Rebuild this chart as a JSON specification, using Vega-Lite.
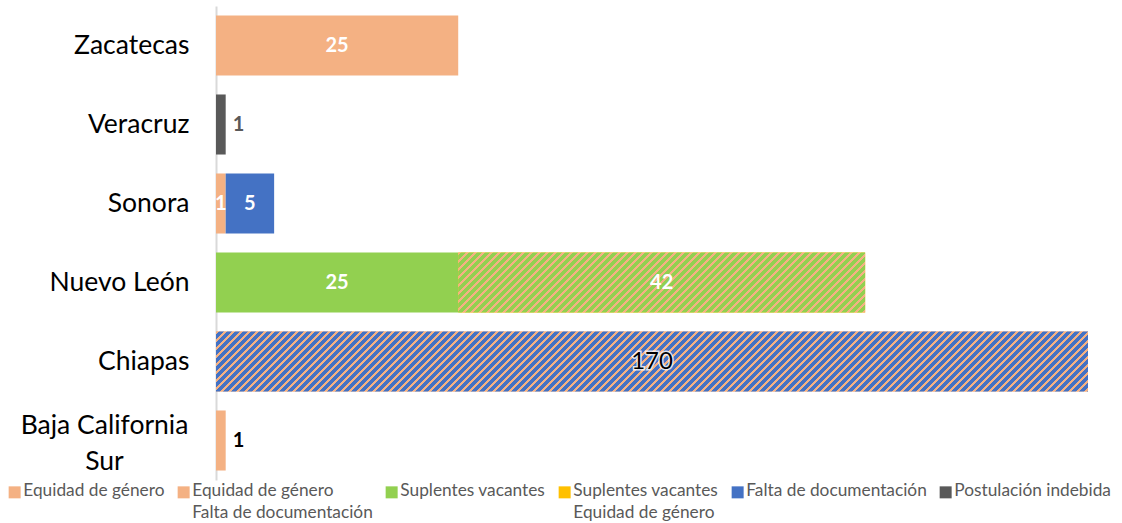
{
  "$schema": "https://vega.github.io/schema/vega-lite/v6.json",
  "width": 872,
  "height": 474,
  "autosize": "none",
  "padding": {"left": 216, "top": 6, "right": 34, "bottom": 43},
  "background": "white",
  "config": {"font": "Lato", "view": {"stroke": null}},
  "data": {
    "values": [
      {"estado": "Zacatecas", "serie": "Equidad de género", "valor": 25},
      {"estado": "Veracruz", "serie": "Postulación indebida", "valor": 1},
      {"estado": "Sonora", "serie": "Equidad de género", "valor": 1},
      {"estado": "Sonora", "serie": "Falta de documentación", "valor": 5},
      {"estado": "Nuevo León", "serie": "Suplentes vacantes", "valor": 25},
      {"estado": "Nuevo León", "serie": "Suplentes vacantes / Equidad de género", "valor": 42},
      {"estado": "Chiapas", "serie": "Equidad de género / Falta de documentación", "valor": 170},
      {"estado": "Baja California Sur", "serie": "Equidad de género", "valor": 1}
    ]
  },
  "transform": [
    {"stack": "valor", "groupby": ["estado"], "sort": [{"field": "serie", "order": "ascending"}], "as": ["x0", "x1"]},
    {"calculate": "(min(datum.x0, 90) + min(datum.x1, 90)) / 2", "as": "xm"}
  ],
  "encoding": {
    "y": {
      "field": "estado",
      "type": "nominal",
      "sort": ["Zacatecas", "Veracruz", "Sonora", "Nuevo León", "Chiapas", "Baja California Sur"],
      "scale": {"paddingInner": 0.24, "paddingOuter": 0.12},
      "axis": {
        "title": null,
        "ticks": false,
        "labelFontSize": 26.5,
        "labelColor": "#000000",
        "labelPadding": {"condition": {"test": "datum.value == 'Baja California Sur'", "value": 112}, "value": 27},
        "labelAlign": {"condition": {"test": "datum.value == 'Baja California Sur'", "value": "center"}, "value": "right"},
        "labelOffset": {"condition": {"test": "datum.value == 'Baja California Sur'", "value": -15}, "value": 0},
        "labelLimit": 400,
        "labelLineHeight": 36,
        "domainColor": "#D9D9D9",
        "domainWidth": 2,
        "labelExpr": "datum.label == 'Baja California Sur' ? ['Baja California', 'Sur'] : datum.label"
      }
    }
  },
  "layer": [
    {
      "mark": {"type": "bar"},
      "encoding": {
        "x": {"field": "x0", "type": "quantitative", "scale": {"domain": [0, 90], "clamp": true}, "axis": null},
        "x2": {"field": "x1"},
        "color": {
          "field": "serie",
          "type": "nominal",
          "scale": {
            "domain": ["Equidad de género", "Equidad de género / Falta de documentación", "Suplentes vacantes", "Suplentes vacantes / Equidad de género", "Falta de documentación", "Postulación indebida"],
            "range": ["#F4B183", "#F4B183", "#92D050", "#FFC000", "#4472C4", "#595959"]
          },
          "legend": {
            "title": null,
            "orient": "none",
            "legendX": -210,
            "legendY": 476,
            "direction": "horizontal",
            "columns": 6,
            "columnPadding": 10,
            "symbolType": "square",
            "symbolSize": 144,
            "symbolStrokeWidth": 0,
            "labelFontSize": 17.3,
            "labelColor": "#595959",
            "labelOffset": 0,
            "labelLimit": 400,
            "labelExpr": "datum.label == 'Equidad de género / Falta de documentación' ? ['Equidad de género', 'Falta de documentación'] : datum.label == 'Suplentes vacantes / Equidad de género' ? ['Suplentes vacantes', 'Equidad de género'] : [datum.label, ' ']",
            "encode": {
              "labels": {"update": {"lineHeight": {"value": 22}, "y": {"value": 0}, "baseline": {"value": "top"}}},
              "symbols": {
                "update": {
                  "y": {"value": 10},
                  "fill": [
                    {
                      "test": "datum.value === 'Equidad de género / Falta de documentación'",
                      "value": {
                        "gradient": "linear", "x1": 0, "y1": 0, "x2": 1, "y2": 1,
                        "stops": [
                          {"offset": 0, "color": "#F4B183"}, {"offset": 0.2, "color": "#F4B183"},
                          {"offset": 0.2, "color": "#FFFFFF"}, {"offset": 0.42, "color": "#FFFFFF"},
                          {"offset": 0.42, "color": "#F4B183"}, {"offset": 0.58, "color": "#F4B183"},
                          {"offset": 0.58, "color": "#FFFFFF"}, {"offset": 0.8, "color": "#FFFFFF"},
                          {"offset": 0.8, "color": "#F4B183"}, {"offset": 1, "color": "#F4B183"}
                        ]
                      }
                    },
                    {"scale": "color", "field": "value"}
                  ]
                }
              }
            }
          }
        }
      }
    },
    {
      "transform": [{"filter": "datum.estado === 'Chiapas'"}],
      "mark": {
        "type": "bar",
        "fill": {
          "gradient": "linear", "x1": 0, "y1": 0, "x2": 1.1414, "y2": 0.0786,
          "stops": [
{"offset":0,"color":"#F4B183"},{"offset":0.003,"color":"#F4B183"},{"offset":0.003,"color":"#4472C4"},{"offset":0.008,"color":"#4472C4"},
{"offset":0.008,"color":"#F4B183"},{"offset":0.011,"color":"#F4B183"},{"offset":0.011,"color":"#4472C4"},{"offset":0.016,"color":"#4472C4"},
{"offset":0.016,"color":"#F4B183"},{"offset":0.019,"color":"#F4B183"},{"offset":0.019,"color":"#4472C4"},{"offset":0.024,"color":"#4472C4"},
{"offset":0.024,"color":"#F4B183"},{"offset":0.027,"color":"#F4B183"},{"offset":0.027,"color":"#4472C4"},{"offset":0.032,"color":"#4472C4"},
{"offset":0.032,"color":"#F4B183"},{"offset":0.035,"color":"#F4B183"},{"offset":0.035,"color":"#4472C4"},{"offset":0.04,"color":"#4472C4"},
{"offset":0.04,"color":"#F4B183"},{"offset":0.043,"color":"#F4B183"},{"offset":0.043,"color":"#4472C4"},{"offset":0.048,"color":"#4472C4"},
{"offset":0.048,"color":"#F4B183"},{"offset":0.051,"color":"#F4B183"},{"offset":0.051,"color":"#4472C4"},{"offset":0.056,"color":"#4472C4"},
{"offset":0.056,"color":"#F4B183"},{"offset":0.059,"color":"#F4B183"},{"offset":0.059,"color":"#4472C4"},{"offset":0.064,"color":"#4472C4"},
{"offset":0.064,"color":"#F4B183"},{"offset":0.067,"color":"#F4B183"},{"offset":0.067,"color":"#4472C4"},{"offset":0.072,"color":"#4472C4"},
{"offset":0.072,"color":"#F4B183"},{"offset":0.075,"color":"#F4B183"},{"offset":0.075,"color":"#4472C4"},{"offset":0.08,"color":"#4472C4"},
{"offset":0.08,"color":"#F4B183"},{"offset":0.083,"color":"#F4B183"},{"offset":0.083,"color":"#4472C4"},{"offset":0.088,"color":"#4472C4"},
{"offset":0.088,"color":"#F4B183"},{"offset":0.091,"color":"#F4B183"},{"offset":0.091,"color":"#4472C4"},{"offset":0.096,"color":"#4472C4"},
{"offset":0.096,"color":"#F4B183"},{"offset":0.099,"color":"#F4B183"},{"offset":0.099,"color":"#4472C4"},{"offset":0.104,"color":"#4472C4"},
{"offset":0.104,"color":"#F4B183"},{"offset":0.107,"color":"#F4B183"},{"offset":0.107,"color":"#4472C4"},{"offset":0.112,"color":"#4472C4"},
{"offset":0.112,"color":"#F4B183"},{"offset":0.115,"color":"#F4B183"},{"offset":0.115,"color":"#4472C4"},{"offset":0.12,"color":"#4472C4"},
{"offset":0.12,"color":"#F4B183"},{"offset":0.123,"color":"#F4B183"},{"offset":0.123,"color":"#4472C4"},{"offset":0.128,"color":"#4472C4"},
{"offset":0.128,"color":"#F4B183"},{"offset":0.131,"color":"#F4B183"},{"offset":0.131,"color":"#4472C4"},{"offset":0.136,"color":"#4472C4"},
{"offset":0.136,"color":"#F4B183"},{"offset":0.139,"color":"#F4B183"},{"offset":0.139,"color":"#4472C4"},{"offset":0.144,"color":"#4472C4"},
{"offset":0.144,"color":"#F4B183"},{"offset":0.147,"color":"#F4B183"},{"offset":0.147,"color":"#4472C4"},{"offset":0.152,"color":"#4472C4"},
{"offset":0.152,"color":"#F4B183"},{"offset":0.155,"color":"#F4B183"},{"offset":0.155,"color":"#4472C4"},{"offset":0.16,"color":"#4472C4"},
{"offset":0.16,"color":"#F4B183"},{"offset":0.163,"color":"#F4B183"},{"offset":0.163,"color":"#4472C4"},{"offset":0.168,"color":"#4472C4"},
{"offset":0.168,"color":"#F4B183"},{"offset":0.171,"color":"#F4B183"},{"offset":0.171,"color":"#4472C4"},{"offset":0.176,"color":"#4472C4"},
{"offset":0.176,"color":"#F4B183"},{"offset":0.179,"color":"#F4B183"},{"offset":0.179,"color":"#4472C4"},{"offset":0.184,"color":"#4472C4"},
{"offset":0.184,"color":"#F4B183"},{"offset":0.187,"color":"#F4B183"},{"offset":0.187,"color":"#4472C4"},{"offset":0.192,"color":"#4472C4"},
{"offset":0.192,"color":"#F4B183"},{"offset":0.195,"color":"#F4B183"},{"offset":0.195,"color":"#4472C4"},{"offset":0.2,"color":"#4472C4"},
{"offset":0.2,"color":"#F4B183"},{"offset":0.203,"color":"#F4B183"},{"offset":0.203,"color":"#4472C4"},{"offset":0.208,"color":"#4472C4"},
{"offset":0.208,"color":"#F4B183"},{"offset":0.211,"color":"#F4B183"},{"offset":0.211,"color":"#4472C4"},{"offset":0.216,"color":"#4472C4"},
{"offset":0.216,"color":"#F4B183"},{"offset":0.219,"color":"#F4B183"},{"offset":0.219,"color":"#4472C4"},{"offset":0.224,"color":"#4472C4"},
{"offset":0.224,"color":"#F4B183"},{"offset":0.227,"color":"#F4B183"},{"offset":0.227,"color":"#4472C4"},{"offset":0.232,"color":"#4472C4"},
{"offset":0.232,"color":"#F4B183"},{"offset":0.235,"color":"#F4B183"},{"offset":0.235,"color":"#4472C4"},{"offset":0.24,"color":"#4472C4"},
{"offset":0.24,"color":"#F4B183"},{"offset":0.243,"color":"#F4B183"},{"offset":0.243,"color":"#4472C4"},{"offset":0.248,"color":"#4472C4"},
{"offset":0.248,"color":"#F4B183"},{"offset":0.251,"color":"#F4B183"},{"offset":0.251,"color":"#4472C4"},{"offset":0.256,"color":"#4472C4"},
{"offset":0.256,"color":"#F4B183"},{"offset":0.259,"color":"#F4B183"},{"offset":0.259,"color":"#4472C4"},{"offset":0.264,"color":"#4472C4"},
{"offset":0.264,"color":"#F4B183"},{"offset":0.267,"color":"#F4B183"},{"offset":0.267,"color":"#4472C4"},{"offset":0.272,"color":"#4472C4"},
{"offset":0.272,"color":"#F4B183"},{"offset":0.275,"color":"#F4B183"},{"offset":0.275,"color":"#4472C4"},{"offset":0.28,"color":"#4472C4"},
{"offset":0.28,"color":"#F4B183"},{"offset":0.283,"color":"#F4B183"},{"offset":0.283,"color":"#4472C4"},{"offset":0.288,"color":"#4472C4"},
{"offset":0.288,"color":"#F4B183"},{"offset":0.291,"color":"#F4B183"},{"offset":0.291,"color":"#4472C4"},{"offset":0.296,"color":"#4472C4"},
{"offset":0.296,"color":"#F4B183"},{"offset":0.299,"color":"#F4B183"},{"offset":0.299,"color":"#4472C4"},{"offset":0.304,"color":"#4472C4"},
{"offset":0.304,"color":"#F4B183"},{"offset":0.307,"color":"#F4B183"},{"offset":0.307,"color":"#4472C4"},{"offset":0.312,"color":"#4472C4"},
{"offset":0.312,"color":"#F4B183"},{"offset":0.315,"color":"#F4B183"},{"offset":0.315,"color":"#4472C4"},{"offset":0.32,"color":"#4472C4"},
{"offset":0.32,"color":"#F4B183"},{"offset":0.323,"color":"#F4B183"},{"offset":0.323,"color":"#4472C4"},{"offset":0.328,"color":"#4472C4"},
{"offset":0.328,"color":"#F4B183"},{"offset":0.331,"color":"#F4B183"},{"offset":0.331,"color":"#4472C4"},{"offset":0.336,"color":"#4472C4"},
{"offset":0.336,"color":"#F4B183"},{"offset":0.339,"color":"#F4B183"},{"offset":0.339,"color":"#4472C4"},{"offset":0.344,"color":"#4472C4"},
{"offset":0.344,"color":"#F4B183"},{"offset":0.347,"color":"#F4B183"},{"offset":0.347,"color":"#4472C4"},{"offset":0.352,"color":"#4472C4"},
{"offset":0.352,"color":"#F4B183"},{"offset":0.355,"color":"#F4B183"},{"offset":0.355,"color":"#4472C4"},{"offset":0.36,"color":"#4472C4"},
{"offset":0.36,"color":"#F4B183"},{"offset":0.363,"color":"#F4B183"},{"offset":0.363,"color":"#4472C4"},{"offset":0.368,"color":"#4472C4"},
{"offset":0.368,"color":"#F4B183"},{"offset":0.371,"color":"#F4B183"},{"offset":0.371,"color":"#4472C4"},{"offset":0.376,"color":"#4472C4"},
{"offset":0.376,"color":"#F4B183"},{"offset":0.379,"color":"#F4B183"},{"offset":0.379,"color":"#4472C4"},{"offset":0.384,"color":"#4472C4"},
{"offset":0.384,"color":"#F4B183"},{"offset":0.387,"color":"#F4B183"},{"offset":0.387,"color":"#4472C4"},{"offset":0.392,"color":"#4472C4"},
{"offset":0.392,"color":"#F4B183"},{"offset":0.395,"color":"#F4B183"},{"offset":0.395,"color":"#4472C4"},{"offset":0.4,"color":"#4472C4"},
{"offset":0.4,"color":"#F4B183"},{"offset":0.403,"color":"#F4B183"},{"offset":0.403,"color":"#4472C4"},{"offset":0.408,"color":"#4472C4"},
{"offset":0.408,"color":"#F4B183"},{"offset":0.411,"color":"#F4B183"},{"offset":0.411,"color":"#4472C4"},{"offset":0.416,"color":"#4472C4"},
{"offset":0.416,"color":"#F4B183"},{"offset":0.419,"color":"#F4B183"},{"offset":0.419,"color":"#4472C4"},{"offset":0.424,"color":"#4472C4"},
{"offset":0.424,"color":"#F4B183"},{"offset":0.427,"color":"#F4B183"},{"offset":0.427,"color":"#4472C4"},{"offset":0.432,"color":"#4472C4"},
{"offset":0.432,"color":"#F4B183"},{"offset":0.435,"color":"#F4B183"},{"offset":0.435,"color":"#4472C4"},{"offset":0.44,"color":"#4472C4"},
{"offset":0.44,"color":"#F4B183"},{"offset":0.443,"color":"#F4B183"},{"offset":0.443,"color":"#4472C4"},{"offset":0.448,"color":"#4472C4"},
{"offset":0.448,"color":"#F4B183"},{"offset":0.451,"color":"#F4B183"},{"offset":0.451,"color":"#4472C4"},{"offset":0.456,"color":"#4472C4"},
{"offset":0.456,"color":"#F4B183"},{"offset":0.459,"color":"#F4B183"},{"offset":0.459,"color":"#4472C4"},{"offset":0.464,"color":"#4472C4"},
{"offset":0.464,"color":"#F4B183"},{"offset":0.467,"color":"#F4B183"},{"offset":0.467,"color":"#4472C4"},{"offset":0.472,"color":"#4472C4"},
{"offset":0.472,"color":"#F4B183"},{"offset":0.475,"color":"#F4B183"},{"offset":0.475,"color":"#4472C4"},{"offset":0.48,"color":"#4472C4"},
{"offset":0.48,"color":"#F4B183"},{"offset":0.483,"color":"#F4B183"},{"offset":0.483,"color":"#4472C4"},{"offset":0.488,"color":"#4472C4"},
{"offset":0.488,"color":"#F4B183"},{"offset":0.491,"color":"#F4B183"},{"offset":0.491,"color":"#4472C4"},{"offset":0.496,"color":"#4472C4"},
{"offset":0.496,"color":"#F4B183"},{"offset":0.499,"color":"#F4B183"},{"offset":0.499,"color":"#4472C4"},{"offset":0.504,"color":"#4472C4"},
{"offset":0.504,"color":"#F4B183"},{"offset":0.507,"color":"#F4B183"},{"offset":0.507,"color":"#4472C4"},{"offset":0.512,"color":"#4472C4"},
{"offset":0.512,"color":"#F4B183"},{"offset":0.515,"color":"#F4B183"},{"offset":0.515,"color":"#4472C4"},{"offset":0.52,"color":"#4472C4"},
{"offset":0.52,"color":"#F4B183"},{"offset":0.523,"color":"#F4B183"},{"offset":0.523,"color":"#4472C4"},{"offset":0.528,"color":"#4472C4"},
{"offset":0.528,"color":"#F4B183"},{"offset":0.531,"color":"#F4B183"},{"offset":0.531,"color":"#4472C4"},{"offset":0.536,"color":"#4472C4"},
{"offset":0.536,"color":"#F4B183"},{"offset":0.539,"color":"#F4B183"},{"offset":0.539,"color":"#4472C4"},{"offset":0.544,"color":"#4472C4"},
{"offset":0.544,"color":"#F4B183"},{"offset":0.547,"color":"#F4B183"},{"offset":0.547,"color":"#4472C4"},{"offset":0.552,"color":"#4472C4"},
{"offset":0.552,"color":"#F4B183"},{"offset":0.555,"color":"#F4B183"},{"offset":0.555,"color":"#4472C4"},{"offset":0.56,"color":"#4472C4"},
{"offset":0.56,"color":"#F4B183"},{"offset":0.563,"color":"#F4B183"},{"offset":0.563,"color":"#4472C4"},{"offset":0.568,"color":"#4472C4"},
{"offset":0.568,"color":"#F4B183"},{"offset":0.571,"color":"#F4B183"},{"offset":0.571,"color":"#4472C4"},{"offset":0.576,"color":"#4472C4"},
{"offset":0.576,"color":"#F4B183"},{"offset":0.579,"color":"#F4B183"},{"offset":0.579,"color":"#4472C4"},{"offset":0.584,"color":"#4472C4"},
{"offset":0.584,"color":"#F4B183"},{"offset":0.587,"color":"#F4B183"},{"offset":0.587,"color":"#4472C4"},{"offset":0.592,"color":"#4472C4"},
{"offset":0.592,"color":"#F4B183"},{"offset":0.595,"color":"#F4B183"},{"offset":0.595,"color":"#4472C4"},{"offset":0.6,"color":"#4472C4"},
{"offset":0.6,"color":"#F4B183"},{"offset":0.603,"color":"#F4B183"},{"offset":0.603,"color":"#4472C4"},{"offset":0.608,"color":"#4472C4"},
{"offset":0.608,"color":"#F4B183"},{"offset":0.611,"color":"#F4B183"},{"offset":0.611,"color":"#4472C4"},{"offset":0.616,"color":"#4472C4"},
{"offset":0.616,"color":"#F4B183"},{"offset":0.619,"color":"#F4B183"},{"offset":0.619,"color":"#4472C4"},{"offset":0.624,"color":"#4472C4"},
{"offset":0.624,"color":"#F4B183"},{"offset":0.627,"color":"#F4B183"},{"offset":0.627,"color":"#4472C4"},{"offset":0.632,"color":"#4472C4"},
{"offset":0.632,"color":"#F4B183"},{"offset":0.635,"color":"#F4B183"},{"offset":0.635,"color":"#4472C4"},{"offset":0.64,"color":"#4472C4"},
{"offset":0.64,"color":"#F4B183"},{"offset":0.643,"color":"#F4B183"},{"offset":0.643,"color":"#4472C4"},{"offset":0.648,"color":"#4472C4"},
{"offset":0.648,"color":"#F4B183"},{"offset":0.651,"color":"#F4B183"},{"offset":0.651,"color":"#4472C4"},{"offset":0.656,"color":"#4472C4"},
{"offset":0.656,"color":"#F4B183"},{"offset":0.659,"color":"#F4B183"},{"offset":0.659,"color":"#4472C4"},{"offset":0.664,"color":"#4472C4"},
{"offset":0.664,"color":"#F4B183"},{"offset":0.667,"color":"#F4B183"},{"offset":0.667,"color":"#4472C4"},{"offset":0.672,"color":"#4472C4"},
{"offset":0.672,"color":"#F4B183"},{"offset":0.675,"color":"#F4B183"},{"offset":0.675,"color":"#4472C4"},{"offset":0.68,"color":"#4472C4"},
{"offset":0.68,"color":"#F4B183"},{"offset":0.683,"color":"#F4B183"},{"offset":0.683,"color":"#4472C4"},{"offset":0.688,"color":"#4472C4"},
{"offset":0.688,"color":"#F4B183"},{"offset":0.691,"color":"#F4B183"},{"offset":0.691,"color":"#4472C4"},{"offset":0.696,"color":"#4472C4"},
{"offset":0.696,"color":"#F4B183"},{"offset":0.699,"color":"#F4B183"},{"offset":0.699,"color":"#4472C4"},{"offset":0.704,"color":"#4472C4"},
{"offset":0.704,"color":"#F4B183"},{"offset":0.707,"color":"#F4B183"},{"offset":0.707,"color":"#4472C4"},{"offset":0.712,"color":"#4472C4"},
{"offset":0.712,"color":"#F4B183"},{"offset":0.715,"color":"#F4B183"},{"offset":0.715,"color":"#4472C4"},{"offset":0.72,"color":"#4472C4"},
{"offset":0.72,"color":"#F4B183"},{"offset":0.723,"color":"#F4B183"},{"offset":0.723,"color":"#4472C4"},{"offset":0.728,"color":"#4472C4"},
{"offset":0.728,"color":"#F4B183"},{"offset":0.731,"color":"#F4B183"},{"offset":0.731,"color":"#4472C4"},{"offset":0.736,"color":"#4472C4"},
{"offset":0.736,"color":"#F4B183"},{"offset":0.739,"color":"#F4B183"},{"offset":0.739,"color":"#4472C4"},{"offset":0.744,"color":"#4472C4"},
{"offset":0.744,"color":"#F4B183"},{"offset":0.747,"color":"#F4B183"},{"offset":0.747,"color":"#4472C4"},{"offset":0.752,"color":"#4472C4"},
{"offset":0.752,"color":"#F4B183"},{"offset":0.755,"color":"#F4B183"},{"offset":0.755,"color":"#4472C4"},{"offset":0.76,"color":"#4472C4"},
{"offset":0.76,"color":"#F4B183"},{"offset":0.763,"color":"#F4B183"},{"offset":0.763,"color":"#4472C4"},{"offset":0.768,"color":"#4472C4"},
{"offset":0.768,"color":"#F4B183"},{"offset":0.771,"color":"#F4B183"},{"offset":0.771,"color":"#4472C4"},{"offset":0.776,"color":"#4472C4"},
{"offset":0.776,"color":"#F4B183"},{"offset":0.779,"color":"#F4B183"},{"offset":0.779,"color":"#4472C4"},{"offset":0.784,"color":"#4472C4"},
{"offset":0.784,"color":"#F4B183"},{"offset":0.787,"color":"#F4B183"},{"offset":0.787,"color":"#4472C4"},{"offset":0.792,"color":"#4472C4"},
{"offset":0.792,"color":"#F4B183"},{"offset":0.795,"color":"#F4B183"},{"offset":0.795,"color":"#4472C4"},{"offset":0.8,"color":"#4472C4"},
{"offset":0.8,"color":"#F4B183"},{"offset":0.803,"color":"#F4B183"},{"offset":0.803,"color":"#4472C4"},{"offset":0.808,"color":"#4472C4"},
{"offset":0.808,"color":"#F4B183"},{"offset":0.811,"color":"#F4B183"},{"offset":0.811,"color":"#4472C4"},{"offset":0.816,"color":"#4472C4"},
{"offset":0.816,"color":"#F4B183"},{"offset":0.819,"color":"#F4B183"},{"offset":0.819,"color":"#4472C4"},{"offset":0.824,"color":"#4472C4"},
{"offset":0.824,"color":"#F4B183"},{"offset":0.827,"color":"#F4B183"},{"offset":0.827,"color":"#4472C4"},{"offset":0.832,"color":"#4472C4"},
{"offset":0.832,"color":"#F4B183"},{"offset":0.835,"color":"#F4B183"},{"offset":0.835,"color":"#4472C4"},{"offset":0.84,"color":"#4472C4"},
{"offset":0.84,"color":"#F4B183"},{"offset":0.843,"color":"#F4B183"},{"offset":0.843,"color":"#4472C4"},{"offset":0.848,"color":"#4472C4"},
{"offset":0.848,"color":"#F4B183"},{"offset":0.851,"color":"#F4B183"},{"offset":0.851,"color":"#4472C4"},{"offset":0.856,"color":"#4472C4"},
{"offset":0.856,"color":"#F4B183"},{"offset":0.859,"color":"#F4B183"},{"offset":0.859,"color":"#4472C4"},{"offset":0.864,"color":"#4472C4"},
{"offset":0.864,"color":"#F4B183"},{"offset":0.867,"color":"#F4B183"},{"offset":0.867,"color":"#4472C4"},{"offset":0.872,"color":"#4472C4"},
{"offset":0.872,"color":"#F4B183"},{"offset":0.875,"color":"#F4B183"},{"offset":0.875,"color":"#4472C4"},{"offset":0.88,"color":"#4472C4"},
{"offset":0.88,"color":"#F4B183"},{"offset":0.883,"color":"#F4B183"},{"offset":0.883,"color":"#4472C4"},{"offset":0.888,"color":"#4472C4"},
{"offset":0.888,"color":"#F4B183"},{"offset":0.891,"color":"#F4B183"},{"offset":0.891,"color":"#4472C4"},{"offset":0.896,"color":"#4472C4"},
{"offset":0.896,"color":"#F4B183"},{"offset":0.899,"color":"#F4B183"},{"offset":0.899,"color":"#4472C4"},{"offset":0.904,"color":"#4472C4"},
{"offset":0.904,"color":"#F4B183"},{"offset":0.907,"color":"#F4B183"},{"offset":0.907,"color":"#4472C4"},{"offset":0.912,"color":"#4472C4"},
{"offset":0.912,"color":"#F4B183"},{"offset":0.915,"color":"#F4B183"},{"offset":0.915,"color":"#4472C4"},{"offset":0.92,"color":"#4472C4"},
{"offset":0.92,"color":"#F4B183"},{"offset":0.923,"color":"#F4B183"},{"offset":0.923,"color":"#4472C4"},{"offset":0.928,"color":"#4472C4"},
{"offset":0.928,"color":"#F4B183"},{"offset":0.931,"color":"#F4B183"},{"offset":0.931,"color":"#4472C4"},{"offset":0.936,"color":"#4472C4"},
{"offset":0.936,"color":"#F4B183"},{"offset":0.939,"color":"#F4B183"},{"offset":0.939,"color":"#4472C4"},{"offset":1,"color":"#4472C4"}
          ]
        }
      },
      "encoding": {
        "x": {"field": "x0", "type": "quantitative", "scale": {"domain": [0, 90], "clamp": true}, "axis": null},
        "x2": {"field": "x1"}
      }
    },
    {
      "transform": [{"filter": "datum.serie === 'Suplentes vacantes / Equidad de género'"}],
      "mark": {
        "type": "bar",
        "fill": {
          "gradient": "linear", "x1": 0, "y1": 0, "x2": 1.2026, "y2": 0.1774,
          "stops": [
{"offset":0,"color":"#F4B183"},{"offset":0.006,"color":"#F4B183"},{"offset":0.006,"color":"#92D050"},{"offset":0.016,"color":"#92D050"},
{"offset":0.016,"color":"#F4B183"},{"offset":0.022,"color":"#F4B183"},{"offset":0.022,"color":"#92D050"},{"offset":0.032,"color":"#92D050"},
{"offset":0.032,"color":"#F4B183"},{"offset":0.038,"color":"#F4B183"},{"offset":0.038,"color":"#92D050"},{"offset":0.048,"color":"#92D050"},
{"offset":0.048,"color":"#F4B183"},{"offset":0.054,"color":"#F4B183"},{"offset":0.054,"color":"#92D050"},{"offset":0.064,"color":"#92D050"},
{"offset":0.064,"color":"#F4B183"},{"offset":0.07,"color":"#F4B183"},{"offset":0.07,"color":"#92D050"},{"offset":0.08,"color":"#92D050"},
{"offset":0.08,"color":"#F4B183"},{"offset":0.086,"color":"#F4B183"},{"offset":0.086,"color":"#92D050"},{"offset":0.096,"color":"#92D050"},
{"offset":0.096,"color":"#F4B183"},{"offset":0.102,"color":"#F4B183"},{"offset":0.102,"color":"#92D050"},{"offset":0.112,"color":"#92D050"},
{"offset":0.112,"color":"#F4B183"},{"offset":0.118,"color":"#F4B183"},{"offset":0.118,"color":"#92D050"},{"offset":0.128,"color":"#92D050"},
{"offset":0.128,"color":"#F4B183"},{"offset":0.134,"color":"#F4B183"},{"offset":0.134,"color":"#92D050"},{"offset":0.144,"color":"#92D050"},
{"offset":0.144,"color":"#F4B183"},{"offset":0.15,"color":"#F4B183"},{"offset":0.15,"color":"#92D050"},{"offset":0.16,"color":"#92D050"},
{"offset":0.16,"color":"#F4B183"},{"offset":0.166,"color":"#F4B183"},{"offset":0.166,"color":"#92D050"},{"offset":0.176,"color":"#92D050"},
{"offset":0.176,"color":"#F4B183"},{"offset":0.182,"color":"#F4B183"},{"offset":0.182,"color":"#92D050"},{"offset":0.192,"color":"#92D050"},
{"offset":0.192,"color":"#F4B183"},{"offset":0.198,"color":"#F4B183"},{"offset":0.198,"color":"#92D050"},{"offset":0.208,"color":"#92D050"},
{"offset":0.208,"color":"#F4B183"},{"offset":0.214,"color":"#F4B183"},{"offset":0.214,"color":"#92D050"},{"offset":0.224,"color":"#92D050"},
{"offset":0.224,"color":"#F4B183"},{"offset":0.23,"color":"#F4B183"},{"offset":0.23,"color":"#92D050"},{"offset":0.24,"color":"#92D050"},
{"offset":0.24,"color":"#F4B183"},{"offset":0.246,"color":"#F4B183"},{"offset":0.246,"color":"#92D050"},{"offset":0.256,"color":"#92D050"},
{"offset":0.256,"color":"#F4B183"},{"offset":0.262,"color":"#F4B183"},{"offset":0.262,"color":"#92D050"},{"offset":0.272,"color":"#92D050"},
{"offset":0.272,"color":"#F4B183"},{"offset":0.278,"color":"#F4B183"},{"offset":0.278,"color":"#92D050"},{"offset":0.288,"color":"#92D050"},
{"offset":0.288,"color":"#F4B183"},{"offset":0.294,"color":"#F4B183"},{"offset":0.294,"color":"#92D050"},{"offset":0.304,"color":"#92D050"},
{"offset":0.304,"color":"#F4B183"},{"offset":0.31,"color":"#F4B183"},{"offset":0.31,"color":"#92D050"},{"offset":0.32,"color":"#92D050"},
{"offset":0.32,"color":"#F4B183"},{"offset":0.326,"color":"#F4B183"},{"offset":0.326,"color":"#92D050"},{"offset":0.336,"color":"#92D050"},
{"offset":0.336,"color":"#F4B183"},{"offset":0.342,"color":"#F4B183"},{"offset":0.342,"color":"#92D050"},{"offset":0.352,"color":"#92D050"},
{"offset":0.352,"color":"#F4B183"},{"offset":0.358,"color":"#F4B183"},{"offset":0.358,"color":"#92D050"},{"offset":0.368,"color":"#92D050"},
{"offset":0.368,"color":"#F4B183"},{"offset":0.374,"color":"#F4B183"},{"offset":0.374,"color":"#92D050"},{"offset":0.384,"color":"#92D050"},
{"offset":0.384,"color":"#F4B183"},{"offset":0.39,"color":"#F4B183"},{"offset":0.39,"color":"#92D050"},{"offset":0.4,"color":"#92D050"},
{"offset":0.4,"color":"#F4B183"},{"offset":0.406,"color":"#F4B183"},{"offset":0.406,"color":"#92D050"},{"offset":0.416,"color":"#92D050"},
{"offset":0.416,"color":"#F4B183"},{"offset":0.422,"color":"#F4B183"},{"offset":0.422,"color":"#92D050"},{"offset":0.432,"color":"#92D050"},
{"offset":0.432,"color":"#F4B183"},{"offset":0.438,"color":"#F4B183"},{"offset":0.438,"color":"#92D050"},{"offset":0.448,"color":"#92D050"},
{"offset":0.448,"color":"#F4B183"},{"offset":0.454,"color":"#F4B183"},{"offset":0.454,"color":"#92D050"},{"offset":0.464,"color":"#92D050"},
{"offset":0.464,"color":"#F4B183"},{"offset":0.47,"color":"#F4B183"},{"offset":0.47,"color":"#92D050"},{"offset":0.48,"color":"#92D050"},
{"offset":0.48,"color":"#F4B183"},{"offset":0.486,"color":"#F4B183"},{"offset":0.486,"color":"#92D050"},{"offset":0.496,"color":"#92D050"},
{"offset":0.496,"color":"#F4B183"},{"offset":0.502,"color":"#F4B183"},{"offset":0.502,"color":"#92D050"},{"offset":0.512,"color":"#92D050"},
{"offset":0.512,"color":"#F4B183"},{"offset":0.518,"color":"#F4B183"},{"offset":0.518,"color":"#92D050"},{"offset":0.528,"color":"#92D050"},
{"offset":0.528,"color":"#F4B183"},{"offset":0.534,"color":"#F4B183"},{"offset":0.534,"color":"#92D050"},{"offset":0.544,"color":"#92D050"},
{"offset":0.544,"color":"#F4B183"},{"offset":0.55,"color":"#F4B183"},{"offset":0.55,"color":"#92D050"},{"offset":0.56,"color":"#92D050"},
{"offset":0.56,"color":"#F4B183"},{"offset":0.566,"color":"#F4B183"},{"offset":0.566,"color":"#92D050"},{"offset":0.576,"color":"#92D050"},
{"offset":0.576,"color":"#F4B183"},{"offset":0.582,"color":"#F4B183"},{"offset":0.582,"color":"#92D050"},{"offset":0.592,"color":"#92D050"},
{"offset":0.592,"color":"#F4B183"},{"offset":0.598,"color":"#F4B183"},{"offset":0.598,"color":"#92D050"},{"offset":0.608,"color":"#92D050"},
{"offset":0.608,"color":"#F4B183"},{"offset":0.614,"color":"#F4B183"},{"offset":0.614,"color":"#92D050"},{"offset":0.624,"color":"#92D050"},
{"offset":0.624,"color":"#F4B183"},{"offset":0.63,"color":"#F4B183"},{"offset":0.63,"color":"#92D050"},{"offset":0.64,"color":"#92D050"},
{"offset":0.64,"color":"#F4B183"},{"offset":0.646,"color":"#F4B183"},{"offset":0.646,"color":"#92D050"},{"offset":0.656,"color":"#92D050"},
{"offset":0.656,"color":"#F4B183"},{"offset":0.662,"color":"#F4B183"},{"offset":0.662,"color":"#92D050"},{"offset":0.672,"color":"#92D050"},
{"offset":0.672,"color":"#F4B183"},{"offset":0.678,"color":"#F4B183"},{"offset":0.678,"color":"#92D050"},{"offset":0.688,"color":"#92D050"},
{"offset":0.688,"color":"#F4B183"},{"offset":0.694,"color":"#F4B183"},{"offset":0.694,"color":"#92D050"},{"offset":0.704,"color":"#92D050"},
{"offset":0.704,"color":"#F4B183"},{"offset":0.71,"color":"#F4B183"},{"offset":0.71,"color":"#92D050"},{"offset":0.72,"color":"#92D050"},
{"offset":0.72,"color":"#F4B183"},{"offset":0.726,"color":"#F4B183"},{"offset":0.726,"color":"#92D050"},{"offset":0.736,"color":"#92D050"},
{"offset":0.736,"color":"#F4B183"},{"offset":0.742,"color":"#F4B183"},{"offset":0.742,"color":"#92D050"},{"offset":0.752,"color":"#92D050"},
{"offset":0.752,"color":"#F4B183"},{"offset":0.758,"color":"#F4B183"},{"offset":0.758,"color":"#92D050"},{"offset":0.768,"color":"#92D050"},
{"offset":0.768,"color":"#F4B183"},{"offset":0.774,"color":"#F4B183"},{"offset":0.774,"color":"#92D050"},{"offset":0.784,"color":"#92D050"},
{"offset":0.784,"color":"#F4B183"},{"offset":0.79,"color":"#F4B183"},{"offset":0.79,"color":"#92D050"},{"offset":0.8,"color":"#92D050"},
{"offset":0.8,"color":"#F4B183"},{"offset":0.806,"color":"#F4B183"},{"offset":0.806,"color":"#92D050"},{"offset":0.816,"color":"#92D050"},
{"offset":0.816,"color":"#F4B183"},{"offset":0.822,"color":"#F4B183"},{"offset":0.822,"color":"#92D050"},{"offset":0.832,"color":"#92D050"},
{"offset":0.832,"color":"#F4B183"},{"offset":0.838,"color":"#F4B183"},{"offset":0.838,"color":"#92D050"},{"offset":0.848,"color":"#92D050"},
{"offset":0.848,"color":"#F4B183"},{"offset":0.854,"color":"#F4B183"},{"offset":0.854,"color":"#92D050"},{"offset":0.864,"color":"#92D050"},
{"offset":0.864,"color":"#F4B183"},{"offset":0.87,"color":"#F4B183"},{"offset":0.87,"color":"#92D050"},{"offset":0.88,"color":"#92D050"},
{"offset":0.88,"color":"#F4B183"},{"offset":0.886,"color":"#F4B183"},{"offset":0.886,"color":"#92D050"},{"offset":0.896,"color":"#92D050"},
{"offset":0.896,"color":"#F4B183"},{"offset":0.902,"color":"#F4B183"},{"offset":0.902,"color":"#92D050"},{"offset":0.912,"color":"#92D050"},
{"offset":0.912,"color":"#F4B183"},{"offset":0.918,"color":"#F4B183"},{"offset":0.918,"color":"#92D050"},{"offset":0.928,"color":"#92D050"},
{"offset":0.928,"color":"#F4B183"},{"offset":0.934,"color":"#F4B183"},{"offset":0.934,"color":"#92D050"},{"offset":0.944,"color":"#92D050"},
{"offset":0.944,"color":"#F4B183"},{"offset":0.95,"color":"#F4B183"},{"offset":0.95,"color":"#92D050"},{"offset":1,"color":"#92D050"}
          ]
        }
      },
      "encoding": {
        "x": {"field": "x0", "type": "quantitative", "scale": {"domain": [0, 90], "clamp": true}, "axis": null},
        "x2": {"field": "x1"}
      }
    },
    {
      "transform": [{"filter": "datum.estado !== 'Veracruz' && datum.estado !== 'Baja California Sur' && datum.estado !== 'Chiapas'"}],
      "mark": {"type": "text", "align": "center", "baseline": "middle", "fontSize": 20, "fontWeight": "bold", "color": "#FFFFFF"},
      "encoding": {
        "x": {"field": "xm", "type": "quantitative", "scale": {"domain": [0, 90], "clamp": true}, "axis": null},
        "text": {"field": "valor", "type": "quantitative"}
      }
    },
    {
      "transform": [{"filter": "datum.estado === 'Chiapas'"}],
      "mark": {"type": "text", "align": "center", "baseline": "middle", "fontSize": 24, "color": "#FFFFFF", "stroke": "#FFFFFF", "strokeWidth": 3, "strokeOpacity": 0.8},
      "encoding": {
        "x": {"field": "xm", "type": "quantitative", "scale": {"domain": [0, 90], "clamp": true}, "axis": null},
        "text": {"field": "valor", "type": "quantitative"}
      }
    },
    {
      "transform": [{"filter": "datum.estado === 'Chiapas'"}],
      "mark": {"type": "text", "align": "center", "baseline": "middle", "fontSize": 24, "color": "#000000"},
      "encoding": {
        "x": {"field": "xm", "type": "quantitative", "scale": {"domain": [0, 90], "clamp": true}, "axis": null},
        "text": {"field": "valor", "type": "quantitative"}
      }
    },
    {
      "transform": [{"filter": "datum.estado === 'Veracruz' || datum.estado === 'Baja California Sur'"}],
      "mark": {"type": "text", "align": "left", "baseline": "middle", "dx": 7, "fontSize": 20, "fontWeight": "bold"},
      "encoding": {
        "x": {"field": "x1", "type": "quantitative", "scale": {"domain": [0, 90], "clamp": true}, "axis": null},
        "text": {"field": "valor", "type": "quantitative"},
        "color": {"condition": {"test": "datum.estado === 'Veracruz'", "value": "#595959"}, "value": "#000000"}
      }
    }
  ]
}
